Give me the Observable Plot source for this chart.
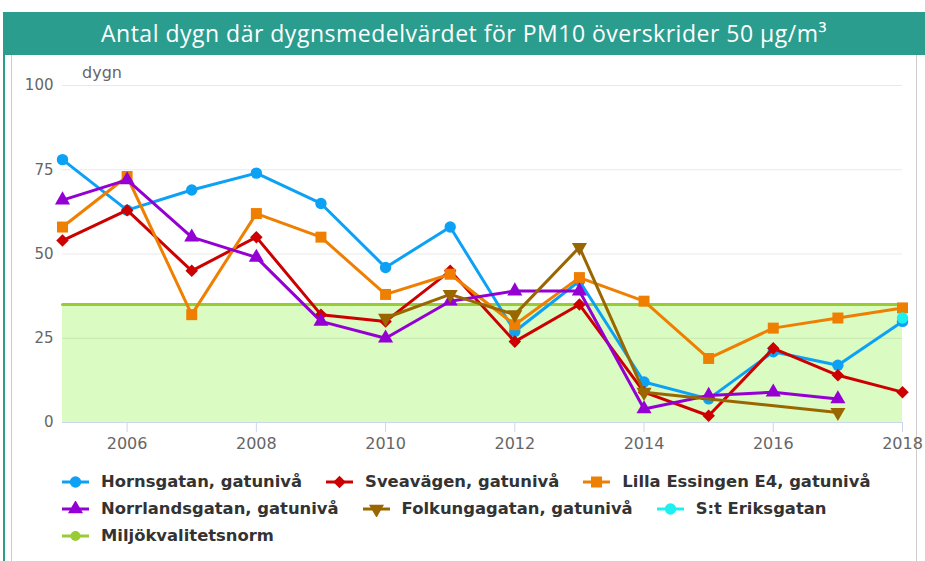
<!DOCTYPE html>
<html><head><meta charset="utf-8">
<script src="https://cdn.jsdelivr.net/npm/d3@7"></script>
<script src="https://cdn.jsdelivr.net/npm/@observablehq/plot@0.6"></script>
<style>
body{margin:0;background:#fff;width:925px;height:561px;overflow:hidden;position:relative;font-family:"DejaVu Sans",sans-serif}
#hdr{position:absolute;left:3px;top:12px;width:922px;height:43px;background:#2a9d8f;color:#fff;font:400 23px "Open Sans",sans-serif;letter-spacing:0.5px;text-align:center;line-height:43px;white-space:nowrap}
#lb{position:absolute;left:3px;top:55px;width:2px;bottom:0;background:#2a9d8f}
#gb{position:absolute;left:11px;top:55px;width:1px;bottom:0;background:#ccc}
#rb{position:absolute;left:916px;top:55px;width:1px;bottom:0;background:#ccc}
#chart{position:absolute;left:0;top:55px}
#dygn{position:absolute;left:82px;top:63px;font-size:16px;color:#666;line-height:20px}
#legend{position:absolute;left:62px;top:468px;font:bold 16.4px "DejaVu Sans",sans-serif;color:#333}
.row{display:flex;height:27px;align-items:center;white-space:nowrap}
.item{display:flex;align-items:center;margin-right:24px}
.item svg{margin-right:12px}
</style>
</head><body>
<div id="hdr">Antal dygn där dygnsmedelvärdet för PM10 överskrider 50 µg/m³</div>
<div id="lb"></div><div id="gb"></div><div id="rb"></div>
<div id="chart"></div>
<div id="dygn">dygn</div>
<div id="legend"></div>
<script>
const years = [2005, 2006, 2007, 2008, 2009, 2010, 2011, 2012, 2013, 2014, 2015, 2016, 2017, 2018];
const xTicks = [2006, 2008, 2010, 2012, 2014, 2016, 2018];
const yTicks = [0, 25, 50, 75, 100];
const hornsgatan     = [78, 63, 69, 74, 65, 46, 58, 27, 42, 12, 7, 21, 17, 30];
const sveavagen      = [54, 63, 45, 55, 32, 30, 45, 24, 35, 9, 2, 22, 14, 9];
const lillaEssingen  = [58, 73, 32, 62, 55, 38, 44, 29, 43, 36, 19, 28, 31, 34];
const norrlandsgatan = [66, 72, 55, 49, 30, 25, 36, 39, 39, 4, 8, 9, 7, null];
const folkungagatan  = [null, null, null, null, null, 31, 38, 32, 52, 9, null, null, 3, null];
const stEriksgatan   = [null, null, null, null, null, null, null, null, null, null, null, null, null, 31];
const miljokvalitetsnorm = [35, 35, 35, 35, 35, 35, 35, 35, 35, 35, 35, 35, 35, 35];

const series = [
  {name: "Hornsgatan, gatunivå", values: hornsgatan, color: "#0ca1f5", symbol: "circle", r: 5.7, rotate: 0},
  {name: "Sveavägen, gatunivå", values: sveavagen, color: "#cc0000", symbol: "square", r: 5.0, rotate: 45},
  {name: "Lilla Essingen E4, gatunivå", values: lillaEssingen, color: "#ef7f00", symbol: "square", r: 6.2, rotate: 0},
  {name: "Norrlandsgatan, gatunivå", values: norrlandsgatan, color: "#9400d3", symbol: "triangle", r: 5.6, rotate: 0},
  {name: "Folkungagatan, gatunivå", values: folkungagatan, color: "#996600", symbol: "triangle", r: 5.6, rotate: 180},
  {name: "S:t Eriksgatan", values: stEriksgatan, color: "#1ef0f0", symbol: "circle", r: 5.7, rotate: 0}
];
const normSeries = {name: "Miljökvalitetsnorm", values: miljokvalitetsnorm, color: "#99cc33"};

const toRows = vals => years.map((x, i) => ({x, y: vals[i]})).filter(d => d.y != null);
const normRows = toRows(miljokvalitetsnorm);

const marks = [
  Plot.areaY(normRows, {x: "x", y: "y", fill: "#dafbc1"}),
  Plot.ruleY([25, 50, 75, 100], {stroke: "#000", strokeOpacity: 0.09, strokeWidth: 1}),
  Plot.ruleY([0], {stroke: "#ccd6eb", strokeWidth: 1}),
  Plot.lineY(normRows, {x: "x", y: "y", stroke: normSeries.color, strokeWidth: 3}),
  Plot.axisX({ticks: xTicks, tickFormat: d => String(d), tickSize: 10, tickPadding: 5, stroke: "#ccd6eb", fill: "#666", fontSize: 16, label: null}),
  Plot.axisY({ticks: yTicks, tickSize: 0, tickPadding: 9, fill: "#666", fontSize: 15, label: null})
];
for (const s of series) {
  const rows = toRows(s.values);
  marks.push(Plot.line(rows, {x: "x", y: "y", stroke: s.color, strokeWidth: 3}));
  marks.push(Plot.dot(rows, {x: "x", y: "y", fill: s.color, stroke: "none", symbol: s.symbol, r: s.r, rotate: s.rotate}));
}

const chart = Plot.plot({
  width: 925, height: 400,
  marginTop: 30, marginBottom: 33, marginLeft: 62, marginRight: 23,
  x: {domain: [2005, 2018], label: null},
  y: {domain: [0, 100], label: null},
  style: {fontFamily: "DejaVu Sans, sans-serif", background: "transparent", overflow: "visible"},
  marks
});
document.getElementById("chart").appendChild(chart);

// legend
const legendRows = [[0, 1, 2], [3, 4, 5], ["norm"]];
const legend = d3.select("#legend");
const symMap = {circle: d3.symbolCircle, square: d3.symbolSquare, triangle: d3.symbolTriangle};
for (const row of legendRows) {
  const rdiv = legend.append("div").attr("class", "row");
  for (const idx of row) {
    const s = idx === "norm" ? {name: normSeries.name, color: normSeries.color, symbol: "circle", r: 5, rotate: 0} : series[idx];
    const item = rdiv.append("div").attr("class", "item");
    const svg = item.append("svg").attr("width", 27).attr("height", 16);
    svg.append("line").attr("x1", 0).attr("x2", 27).attr("y1", 8).attr("y2", 8).attr("stroke", s.color).attr("stroke-width", 3);
    svg.append("path")
      .attr("d", d3.symbol(symMap[s.symbol], Math.PI * s.r * s.r)())
      .attr("transform", `translate(13.5,8) rotate(${s.rotate})`)
      .attr("fill", s.color);
    item.append("span").text(s.name);
  }
}
</script>
</body></html>
